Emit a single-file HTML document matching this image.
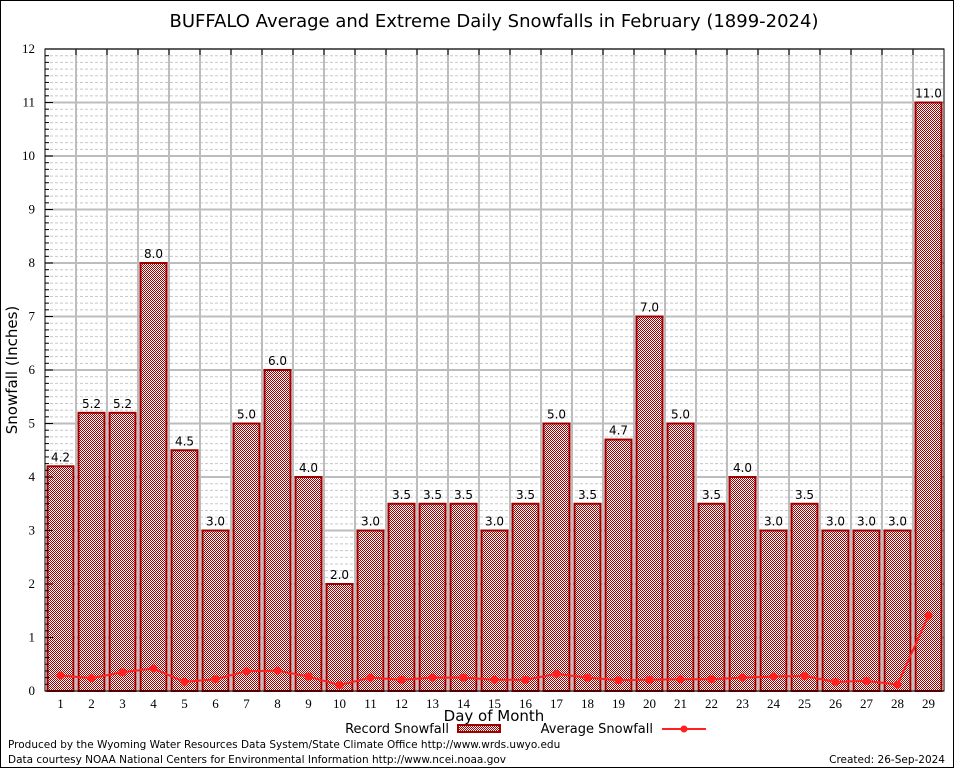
<!DOCTYPE html>
<html><head><meta charset="utf-8"><style>
body{margin:0;background:#fff}
svg{display:block}
</style></head><body>
<svg id="chart" width="954" height="768" xmlns="http://www.w3.org/2000/svg">
<defs>
<pattern id="chk" width="2" height="2" patternUnits="userSpaceOnUse">
<rect width="2" height="2" fill="#fff"/>
<rect width="1" height="1" fill="#a00000"/>
<rect x="1" y="1" width="1" height="1" fill="#a00000"/>
</pattern>
</defs>
<rect x="0.5" y="0.5" width="953" height="767" fill="#fff" stroke="#000"/>
<text x="494" y="27" text-anchor="middle" font-family="DejaVu Sans, sans-serif" font-size="18">BUFFALO Average and Extreme Daily Snowfalls in February (1899-2024)</text>
<g id="grid"></g>
<g id="bars"></g>
<g id="avg"></g>
<g id="axes"></g>
<text x="17" y="370" text-anchor="middle" transform="rotate(-90 17 370)" font-family="DejaVu Sans, sans-serif" font-size="15">Snowfall (Inches)</text>
<text x="494" y="721" text-anchor="middle" font-family="DejaVu Sans, sans-serif" font-size="15">Day of Month</text>
<g font-family="DejaVu Sans, sans-serif" font-size="13">
<text x="449" y="733" text-anchor="end">Record Snowfall</text>
<rect x="458" y="725" width="42" height="7" fill="url(#chk)" stroke="#a00000" stroke-width="2"/>
<text x="653" y="733" text-anchor="end">Average Snowfall</text>
<line x1="662" y1="729" x2="706" y2="729" stroke="#ff2020" stroke-width="2"/>
<circle cx="684" cy="729" r="3.5" fill="#ff2020"/>
</g>
<text x="8" y="748" font-family="DejaVu Sans, sans-serif" font-size="10.5">Produced by the Wyoming Water Resources Data System/State Climate Office http://www.wrds.uwyo.edu</text>
<text x="8" y="763" font-family="DejaVu Sans, sans-serif" font-size="10.5">Data courtesy NOAA National Centers for Environmental Information http://www.ncei.noaa.gov</text>
<text x="945" y="763" text-anchor="end" font-family="DejaVu Sans, sans-serif" font-size="10.5">Created: 26-Sep-2024</text>
</svg>
<script>
const days=[1,2,3,4,5,6,7,8,9,10,11,12,13,14,15,16,17,18,19,20,21,22,23,24,25,26,27,28,29];
const recordSnow=[4.2,5.2,5.2,8.0,4.5,3.0,5.0,6.0,4.0,2.0,3.0,3.5,3.5,3.5,3.0,3.5,5.0,3.5,4.7,7.0,5.0,3.5,4.0,3.0,3.5,3.0,3.0,3.0,11.0];
const avgSnow=[0.29,0.24,0.35,0.42,0.17,0.22,0.37,0.38,0.27,0.11,0.25,0.21,0.25,0.25,0.21,0.21,0.32,0.25,0.2,0.21,0.22,0.22,0.25,0.27,0.28,0.17,0.19,0.12,1.41];
const yTicks=[0,1,2,3,4,5,6,7,8,9,10,11,12];

const NS='http://www.w3.org/2000/svg';
const L=45,R=944,T=49,B=691,YMAX=12;
const step=(R-L)/days.length;
const xS=d=>L+(d-0.5)*step;
const yS=v=>B-(v/YMAX)*(B-T);
function mk(tag,attrs,parent){const e=document.createElementNS(NS,tag);for(const k in attrs)e.setAttribute(k,attrs[k]);parent.appendChild(e);return e;}
const grid=document.getElementById('grid'),bars=document.getElementById('bars'),avg=document.getElementById('avg'),axes=document.getElementById('axes');

for(let v=0;v<YMAX;v+=0.125){
  if(Math.abs(v-Math.round(v))<1e-6)continue;
  const l=mk('line',{x1:L,x2:R,y1:yS(v),y2:yS(v),stroke:'#c8c8c8','stroke-width':1,'stroke-dasharray':'3,2'},grid);
  
  
}
yTicks.forEach(v=>{
  const l=mk('line',{x1:L,x2:R,y1:yS(v),y2:yS(v),stroke:'#bdbdbd','stroke-width':2},grid);
  
  
  const t=mk('text',{x:L-10,y:yS(v)+4,'text-anchor':'end','font-family':'Liberation Serif, serif','font-size':13},axes);
  t.textContent=v;
  
  
  const tk=mk('line',{x1:L,x2:L+8,y1:yS(v),y2:yS(v),stroke:'#000','stroke-width':1},axes);
  
  
});
for(let v=0;v<YMAX;v+=0.125){
  const tk=mk('line',{x1:L,x2:L+4,y1:yS(v),y2:yS(v),stroke:'#000','stroke-width':1},axes);
  
  
}
for(let i=1;i<days.length;i++){
  const x=L+i*step;
  const l=mk('line',{x1:x,x2:x,y1:T,y2:B,stroke:'#bdbdbd','stroke-width':2},grid);
  
  
  const tk=mk('line',{x1:x,x2:x,y1:T,y2:T+6,stroke:'#000','stroke-width':1},axes);
  
  
}
days.forEach((d,i)=>{
  const x=xS(d),y=yS(recordSnow[i]);
  const r=mk('rect',{x:x-13,y:y,width:26,height:B-y,fill:'url(#chk)',stroke:'#a00000','stroke-width':2},bars);
  
  
  const t=mk('text',{x:x,y:y-5,'text-anchor':'middle','font-family':'DejaVu Sans, sans-serif','font-size':12},bars);
  t.textContent=recordSnow[i].toFixed(1);
  
  
  const xl=mk('text',{x:x,y:B+17,'text-anchor':'middle','font-family':'Liberation Serif, serif','font-size':13},axes);
  xl.textContent=d;
  
  
});
const pts=days.map((d,i)=>xS(d)+','+yS(avgSnow[i])).join(' ');
const pl=mk('polyline',{points:pts,fill:'none',stroke:'#ff2020','stroke-width':2},avg);


days.forEach((d,i)=>{
  const c=mk('circle',{cx:xS(d),cy:yS(avgSnow[i]),r:4,fill:'#ff2020'},avg);
  
  
});
const fr=mk('rect',{x:L,y:T,width:R-L,height:B-T,fill:'none',stroke:'#000','stroke-width':1},axes);


</script>
</body></html>
